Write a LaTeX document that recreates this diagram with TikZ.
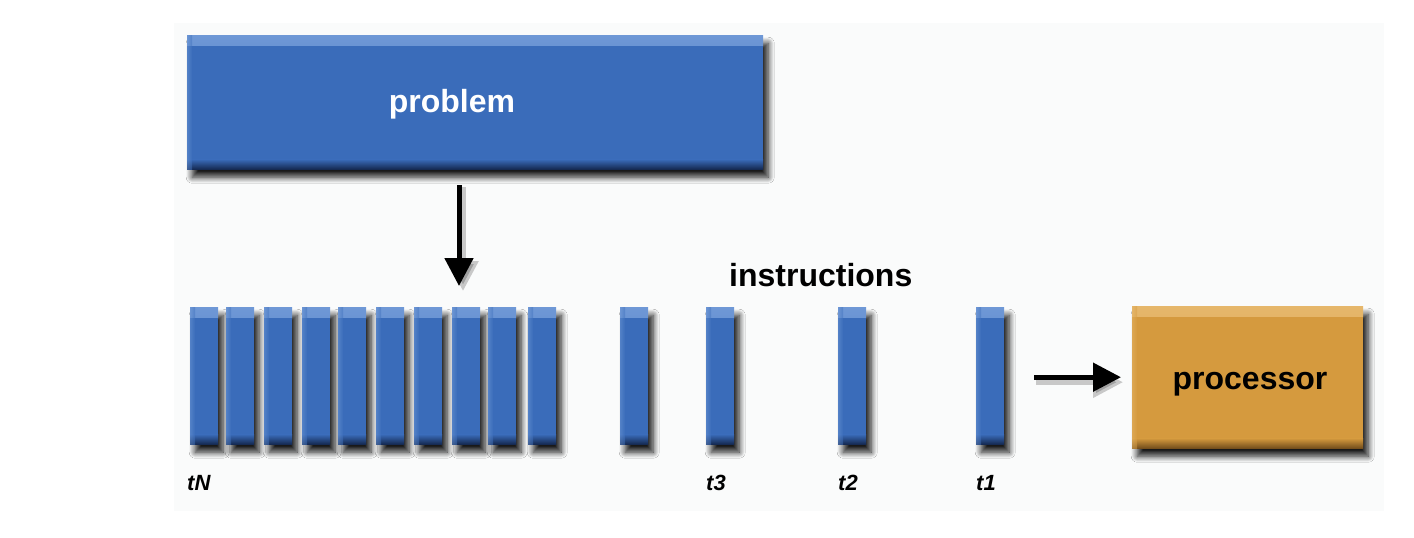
\documentclass[tikz,border=0pt]{standalone}
\usepackage{fontspec}
\setmainfont{Liberation Sans}
\usetikzlibrary{arrows.meta,shadows.blur}
\definecolor{bgcol}{HTML}{FAFBFB}
\definecolor{barblue}{HTML}{3A6CBA}
\definecolor{barlight}{HTML}{6F98D6}
\definecolor{bardark}{HTML}{13264C}
\definecolor{procor}{HTML}{D59A3E}
\definecolor{proclight}{HTML}{E6B76B}
\definecolor{procdark}{HTML}{6E4A1A}
\begin{document}
\begin{tikzpicture}[x=1pt,y=-1pt,
  bevel/.style args={#1/#2/#3}{fill=#1, draw=none, inner sep=0pt,
    path picture={
      \shade[top color=#2, bottom color=#1] ([yshift=0.5pt]path picture bounding box.north west) rectangle ([yshift=-10pt]path picture bounding box.north east);
      \shade[top color=#1, bottom color=#3] ([yshift=10pt]path picture bounding box.south west) rectangle ([yshift=-0.5pt]path picture bounding box.south east);
      \shade[left color=#2, right color=#1, opacity=0.5] ([xshift=-0.5pt]path picture bounding box.north west) rectangle ([xshift=5pt]path picture bounding box.south west);
    }},
  softshadow/.style={blur shadow={shadow xshift=5pt, shadow yshift=-8pt, shadow blur radius=6pt, shadow blur steps=10, shadow opacity=90}},
  bar/.style={bevel=barblue/barlight/bardark, softshadow, minimum width=28pt, minimum height=137pt, anchor=north west},
  bigbox/.style={bevel=#1, softshadow, anchor=north west},
  bigtext/.style={font=\bfseries\fontsize{32}{38}\selectfont, inner sep=0pt},
  tlabel/.style={font=\bfseries\itshape\fontsize{22}{26}\selectfont, inner sep=0pt, anchor=base west},
  arr/.style={line width=5pt, -{Triangle[length=28pt,width=28pt]}},
  arrshadow/.style={line width=6pt, -{Triangle[length=30pt,width=30pt]}, black, opacity=0.2},
]
\useasboundingbox (0,0) rectangle (1414,538);
\fill[bgcol] (174,23) rectangle (1384,511);

% problem box
\node[bigbox=barblue/barlight/bardark, minimum width=576pt, minimum height=134pt] (problem) at (187,35) {};
\node[bigtext, text=white, anchor=base] (problemtext) at (452,112) {problem};

% instructions
\node[bigtext, anchor=base west] (instr) at (729,286) {instructions};

% bars
\foreach \i/\x in {1/190,2/226,3/264,4/302,5/338,6/376,7/414,8/452,9/488,10/528,11/620,12/706,13/838,14/976}
  \node[bar] (b\i) at (\x,307) {};

% labels
\node[tlabel] (ltN) at (187,490) {tN};
\node[tlabel] (lt3) at (706,490) {t3};
\node[tlabel] (lt2) at (838,490) {t2};
\node[tlabel] (lt1) at (976,490) {t1};

% processor
\node[bigbox=procor/proclight/procdark, minimum width=231pt, minimum height=142pt] (processor) at (1132,306) {};
\node[bigtext, anchor=base] (proctext) at (1250,389) {processor};

% arrows
\coordinate (ax) at (459,0);
\draw[arrshadow] ([xshift=4pt,yshift=-18pt]problem.south -| ax) -- ([xshift=4pt,yshift=16pt]b8.north -| ax);
\draw[arr] ([yshift=-16pt]problem.south -| ax) -- ([yshift=21pt]b8.north -| ax);
\draw[arrshadow] ([xshift=32pt,yshift=-5pt]b14.east |- processor.west) -- ([xshift=-9pt,yshift=-5pt]processor.west);
\draw[arr] ([xshift=30pt]b14.east |- processor.west) -- ([xshift=-11pt]processor.west);
\end{tikzpicture}
\end{document}
